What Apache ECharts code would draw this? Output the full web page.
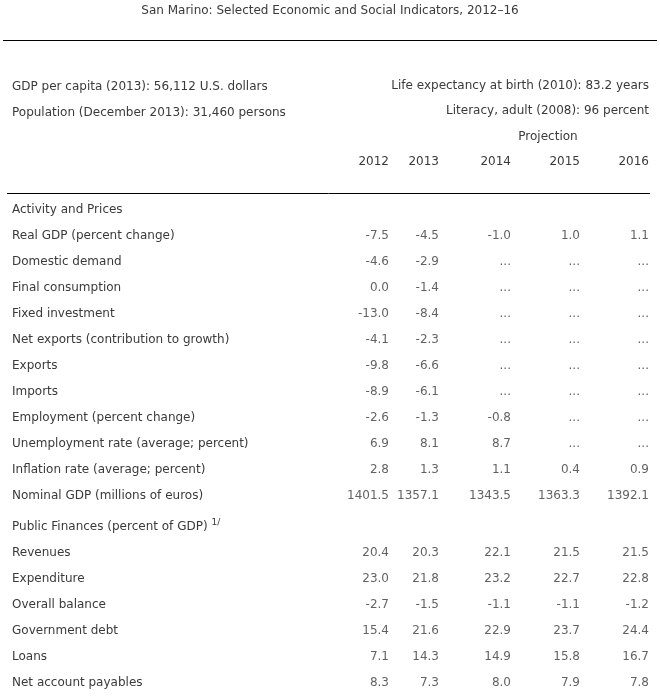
<!DOCTYPE html>
<html>
<head>
<meta charset="utf-8">
<script src="https://cdn.jsdelivr.net/npm/echarts@6/dist/echarts.min.js"></script>
<style>
html,body{margin:0;padding:0;background:#fff;}
#main{width:660px;height:700px;}
</style>
</head>
<body>
<div id="main"></div>
<script>
// ---- data ----
var titleText = 'San Marino: Selected Economic and Social Indicators, 2012\u201316';
var infoLeft = ['GDP per capita (2013): 56,112 U.S. dollars', 'Population (December 2013): 31,460 persons'];
var infoRight = ['Life expectancy at birth (2010): 83.2 years', 'Literacy, adult (2008): 96 percent'];
var projectionLabel = 'Projection';
var histYears = ['2012', '2013'];
var projYears = ['2014', '2015', '2016'];

var rows1 = ['Activity and Prices', 'Real GDP (percent change)', 'Domestic demand', 'Final consumption',
  'Fixed investment', 'Net exports (contribution to growth)', 'Exports', 'Imports',
  'Employment (percent change)', 'Unemployment rate (average; percent)',
  'Inflation rate (average; percent)', 'Nominal GDP (millions of euros)'];
var s1_2012 = ['', -7.5, -4.6, 0.0, -13.0, -4.1, -9.8, -8.9, -2.6, 6.9, 2.8, 1401.5];
var s1_2013 = ['', -4.5, -2.9, -1.4, -8.4, -2.3, -6.6, -6.1, -1.3, 8.1, 1.3, 1357.1];
var s1_2014 = ['', -1.0, null, null, null, null, null, null, -0.8, 8.7, 1.1, 1343.5];
var s1_2015 = ['', 1.0, null, null, null, null, null, null, null, null, 0.4, 1363.3];
var s1_2016 = ['', 1.1, null, null, null, null, null, null, null, null, 0.9, 1392.1];

var rows2 = ['Public Finances (percent of GDP)', 'Revenues', 'Expenditure', 'Overall balance',
  'Government debt', 'Loans', 'Net account payables'];
var footnoteMark = '1/';
var s2_2012 = ['', 20.4, 23.0, -2.7, 15.4, 7.1, 8.3];
var s2_2013 = ['', 20.3, 21.8, -1.5, 21.6, 14.3, 7.3];
var s2_2014 = ['', 22.1, 23.2, -1.1, 22.9, 14.9, 8.0];
var s2_2015 = ['', 21.5, 22.7, -1.1, 23.7, 15.8, 7.9];
var s2_2016 = ['', 21.5, 22.8, -1.2, 24.4, 16.7, 7.8];

// ---- chart ----
var FONT = 'DejaVu Sans';
var FS = 12;
var COL = '#3a3a3a';
var FONTSTR = FS + 'px "' + FONT + '"';

function fmt(v) {
  if (v === '') return '';
  if (v === null || v === undefined) return '...';
  return v.toFixed(1);
}
function buildData(cols) {
  var out = [];
  cols.forEach(function (arr, ci) {
    arr.forEach(function (v, ri) {
      out.push({ value: [ci, ri], text: fmt(v) });
    });
  });
  return out;
}

var chart = echarts.init(document.getElementById('main'), null, { renderer: 'canvas' });

var grids = [
  { left: 389, width: 50, top: 210, height: 286 },
  { left: 511, width: 138, top: 210, height: 286 },
  { left: 389, width: 50, top: 527, height: 156 },
  { left: 511, width: 138, top: 527, height: 156 }
];

function xAx(gi, years, showLabels) {
  return {
    type: 'category', gridIndex: gi, data: years, boundaryGap: false, position: 'top',
    axisLine: { show: false }, axisTick: { show: false }, splitLine: { show: false },
    axisLabel: { show: showLabels, margin: 48, align: 'right', verticalAlign: 'middle', color: COL, fontFamily: FONT, fontSize: FS, interval: 0 }
  };
}
function yAx(gi, rows, showLabels) {
  return {
    type: 'category', gridIndex: gi, data: rows, boundaryGap: false, inverse: true,
    axisLine: { show: false }, axisTick: { show: false }, splitLine: { show: false },
    axisLabel: {
      show: showLabels, margin: 377, align: 'left', color: COL, fontFamily: FONT, fontSize: FS, interval: 0,
      formatter: function (v) {
        return v === rows2[0] ? v + ' {sup|' + footnoteMark + '}' : v;
      },
      rich: { sup: { fontSize: 9, color: COL, fontFamily: FONT, padding: [0, 0, 8, 0] } }
    }
  };
}
function ser(gi, data) {
  return {
    type: 'scatter', xAxisIndex: gi, yAxisIndex: gi, symbolSize: 0, data: data, silent: true,
    label: {
      show: true, position: 'left', distance: 0, color: COL, fontFamily: FONT, fontSize: FS,
      formatter: function (p) { return p.data.text; }
    }
  };
}

var option = {
  backgroundColor: '#ffffff',
  animation: false,
  grid: grids,
  xAxis: [xAx(0, histYears, true), xAx(1, projYears, true), xAx(2, histYears, false), xAx(3, projYears, false)],
  yAxis: [yAx(0, rows1, true), yAx(1, rows1, false), yAx(2, rows2, true), yAx(3, rows2, false)],
  series: [
    ser(0, buildData([s1_2012, s1_2013])),
    ser(1, buildData([s1_2014, s1_2015, s1_2016])),
    ser(2, buildData([s2_2012, s2_2013])),
    ser(3, buildData([s2_2014, s2_2015, s2_2016]))
  ],
  graphic: [
    { type: 'text', x: 330, y: 11, style: { text: titleText, align: 'center', verticalAlign: 'middle', fill: COL, font: FONTSTR } },
    { type: 'line', shape: { x1: 3, y1: 40.5, x2: 657, y2: 40.5 }, style: { stroke: '#000', lineWidth: 1 } },
    { type: 'text', x: 12, y: 87, style: { text: infoLeft[0], align: 'left', verticalAlign: 'middle', fill: COL, font: FONTSTR } },
    { type: 'text', x: 12, y: 113, style: { text: infoLeft[1], align: 'left', verticalAlign: 'middle', fill: COL, font: FONTSTR } },
    { type: 'text', x: 649, y: 86, style: { text: infoRight[0], align: 'right', verticalAlign: 'middle', fill: COL, font: FONTSTR } },
    { type: 'text', x: 649, y: 111, style: { text: infoRight[1], align: 'right', verticalAlign: 'middle', fill: COL, font: FONTSTR } },
    { type: 'text', x: 548, y: 137, style: { text: projectionLabel, align: 'center', verticalAlign: 'middle', fill: COL, font: FONTSTR } },
    { type: 'line', shape: { x1: 7, y1: 193.5, x2: 650, y2: 193.5 }, style: { stroke: '#000', lineWidth: 1 } }
  ]
};
chart.setOption(option);
</script>
</body>
</html>
